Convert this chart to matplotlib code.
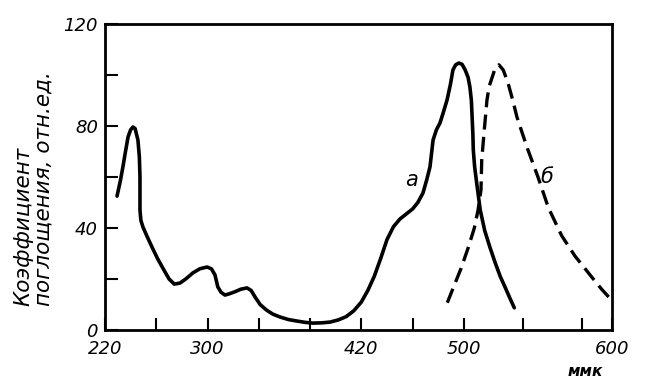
import matplotlib.pyplot as plt
import numpy as np

# кривая а (сплошная)
wl_a = [229.4, 232, 234, 236, 238, 240, 241.8, 243.5, 245.7, 246.8, 247.3, 247.3,
        248, 249.6, 253, 256.7, 261, 266, 270, 274, 278.5, 283, 288.6, 294,
        299.6, 303, 305.8, 307, 308, 310.5, 313.6, 317, 321.4, 326, 330.8, 334,
        337, 341, 346, 351, 356.5, 363, 369.8, 376, 382, 389, 395.5, 401.7,
        408, 414, 420, 425, 430, 435, 440, 445, 450, 455, 460, 464, 468,
        471, 473.5, 475.9, 478.5, 481.3, 484, 486.8, 489.5, 491.4, 493.5, 496,
        498.5, 500.8, 502.8, 504, 505, 505.5, 506, 506.3, 507.2, 508.6, 511,
        514, 517.5, 521, 524.5, 528, 531, 534]
abs_a = [52.5, 58.5, 64, 70, 75.7, 78.5, 79.6, 79, 74.5, 68, 60, 47,
         43, 40.4, 36.5, 32.5, 28, 23.5, 20, 18, 18.4, 20, 22.4, 24,
         24.7, 24, 21.6, 19, 16.9, 14.8, 13.7, 14.2, 15, 16, 16.5, 15.5,
         13, 10, 7.8, 6.2, 5.1, 4.1, 3.5, 3, 2.7, 2.8, 3.1, 3.9,
         5.2, 7.5, 11, 15.5, 21, 28, 35.5, 40.5, 43.5, 45.5, 47.5, 50, 53.7,
         59, 64, 74.5, 78.5, 81.2, 85.5, 90.2, 96.5, 102, 104, 104.7,
         104.2, 102, 99, 95.3, 90, 83.5, 77, 70.6, 64, 57.6, 47,
         39, 32.5, 26.5, 21, 16.5, 12.5, 8.7]

# кривая б (штриховая)
wl_b = [487, 492, 497.6, 503, 507, 509.5, 511.5, 512, 513.5, 515.5, 517, 519, 521,
        523.6, 526.5, 529.7, 533, 535.8, 539.5, 543, 550, 557, 566, 575, 586, 593, 600]
abs_b = [10.7, 17, 24, 32.5, 40, 47, 55, 66.7, 77, 90, 95.5, 99, 102.5,
         104, 102, 97, 90, 83.5, 77, 71, 60, 48, 37, 29, 21, 16, 11.5]

x_ticks = [220, 260, 300, 340, 380, 420, 460, 500, 540, 580, 600]
x_labels = ['220', '', '300', '', '', '420', '', '500', '', '', '600']
y_ticks = [0, 20, 40, 60, 80, 100, 120]
y_labels = ['0', '', '40', '', '80', '', '120']

# шкала на рисунке слегка растянута после 500 ммк
brk_wl = [220, 500, 600]
brk_px = [0, 359, 507]


def fwd(x):
    return np.interp(x, brk_wl, brk_px, left=-1e3, right=1e3)


def inv(x):
    return np.interp(x, brk_px, brk_wl)


fig = plt.figure(figsize=(6.5, 3.89), dpi=100)
ax = fig.add_axes([0.1615, 0.1517, 0.78, 0.7866])
ax.set_xscale('function', functions=(fwd, inv))

ax.plot(wl_a, abs_a, color='black', lw=2.6, solid_capstyle='round', solid_joinstyle='round')
ax.plot(wl_b, abs_b, color='black', lw=2.4, dashes=(4.5, 2.2))

ax.set_xlim(220, 600)
ax.set_ylim(0, 120)

ax.set_xticks(x_ticks)
ax.set_xticklabels(x_labels, fontsize=13, fontstyle='italic')
ax.set_yticks(y_ticks)
ax.set_yticklabels(y_labels, fontsize=13, fontstyle='italic')
ax.tick_params(direction='in', length=9, width=1.5, pad=5)
ax.tick_params(axis='x', pad=7)

for s in ax.spines.values():
    s.set_linewidth(2)

ax.text(459, 59, 'а', fontsize=15, fontstyle='italic', ha='center', va='center')
ax.text(556, 60, 'б', fontsize=15, fontstyle='italic', ha='center', va='center')

fig.text(0.9, 0.045, 'ммк', fontsize=11, fontstyle='italic', fontweight='bold',
         ha='center', va='center')
fig.text(0.052, 0.213, 'Коэффициент\nпоглощения, отн.ед.', rotation=90,
         fontsize=15.5, fontstyle='italic', ha='center', va='bottom',
         multialignment='left', linespacing=1.0)

fig.savefig('out.png', dpi=100)
